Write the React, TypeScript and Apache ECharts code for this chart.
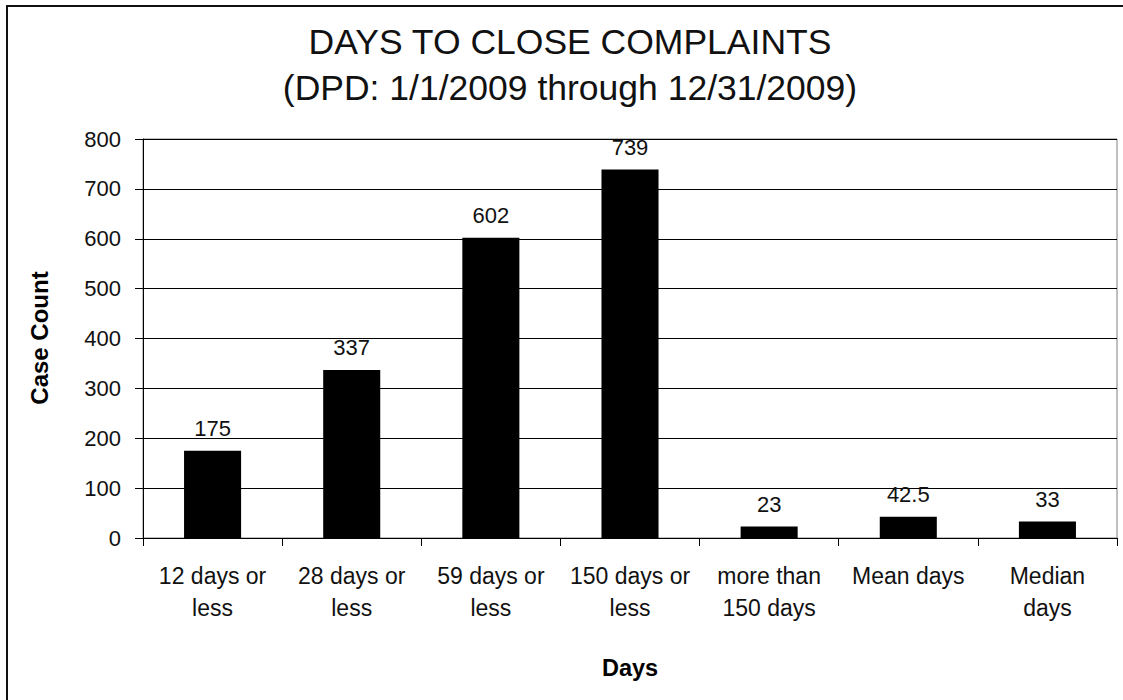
import React, { useEffect, useRef } from "react";
import * as echarts from "echarts";

const categories = [
  "12 days or\nless",
  "28 days or\nless",
  "59 days or\nless",
  "150 days or\nless",
  "more than\n150 days",
  "Mean days",
  "Median\ndays",
];
const caseCounts = [175, 337, 602, 739, 23, 42.5, 33];
const titleLines = ["DAYS TO CLOSE COMPLAINTS", "(DPD: 1/1/2009 through 12/31/2009)"];
const yAxisTitle = "Case Count";
const xAxisTitle = "Days";

const FONT = '"Liberation Sans", Arial, sans-serif';

export default function App() {
  const ref = useRef<HTMLDivElement>(null);
  useEffect(() => {
    if (!ref.current) return;
    const chart = echarts.init(ref.current, null, { renderer: "svg" });
    chart.setOption({
      animation: false,
      backgroundColor: "#ffffff",
      textStyle: { fontFamily: FONT },
      grid: {
        left: 143,
        top: 139,
        width: 974,
        height: 399,
        show: true,
        borderColor: "#808080",
        borderWidth: 1,
        containLabel: false,
      },
      xAxis: {
        type: "category",
        data: categories,
        boundaryGap: true,
        axisLine: { show: true, lineStyle: { color: "#000", width: 1 } },
        axisTick: { show: true, inside: false, length: 8, alignWithLabel: false, lineStyle: { color: "#000" } },
        axisLabel: {
          color: "#111",
          fontFamily: FONT,
          fontSize: 23,
          lineHeight: 32,
          margin: 22,
          interval: 0,
        },
        splitLine: { show: false },
      },
      yAxis: {
        type: "value",
        min: 0,
        max: 800,
        interval: 100,
        axisLine: { show: true, lineStyle: { color: "#000", width: 1 } },
        axisTick: { show: true, inside: false, length: 8, lineStyle: { color: "#000" } },
        axisLabel: { color: "#111", fontFamily: FONT, fontSize: 22, margin: 22 },
        splitLine: { show: true, lineStyle: { color: "#000", width: 1 } },
      },
      series: [
        {
          type: "bar",
          data: caseCounts,
          barWidth: "41%",
          itemStyle: { color: "#000" },
          label: {
            show: true,
            position: "top",
            distance: 11,
            color: "#111",
            fontFamily: FONT,
            fontSize: 22,
          },
        },
      ],
      graphic: [
        {
          type: "rect",
          shape: { x: 7, y: 6, width: 1140, height: 720 },
          style: { fill: "none", stroke: "#111", lineWidth: 2 },
          silent: true,
        },
        {
          type: "text",
          x: 570,
          y: 42,
          style: {
            text: titleLines[0],
            fill: "#111",
            font: `35.5px ${FONT}`,
            align: "center",
            verticalAlign: "middle",
          },
        },
        {
          type: "text",
          x: 570,
          y: 88,
          style: {
            text: titleLines[1],
            fill: "#111",
            font: `35.5px ${FONT}`,
            align: "center",
            verticalAlign: "middle",
          },
        },
        {
          type: "text",
          x: 39,
          y: 338,
          rotation: Math.PI / 2,
          style: {
            text: yAxisTitle,
            fill: "#000",
            font: `bold 24px ${FONT}`,
            align: "center",
            verticalAlign: "middle",
          },
        },
        {
          type: "text",
          x: 630,
          y: 668,
          style: {
            text: xAxisTitle,
            fill: "#000",
            font: `bold 23.5px ${FONT}`,
            align: "center",
            verticalAlign: "middle",
          },
        },
      ],
    });
    return () => chart.dispose();
  }, []);
  return (
    <div
      ref={ref}
      style={{ position: "fixed", left: 0, top: 0, width: 1123, height: 700, background: "#fff" }}
    />
  );
}
